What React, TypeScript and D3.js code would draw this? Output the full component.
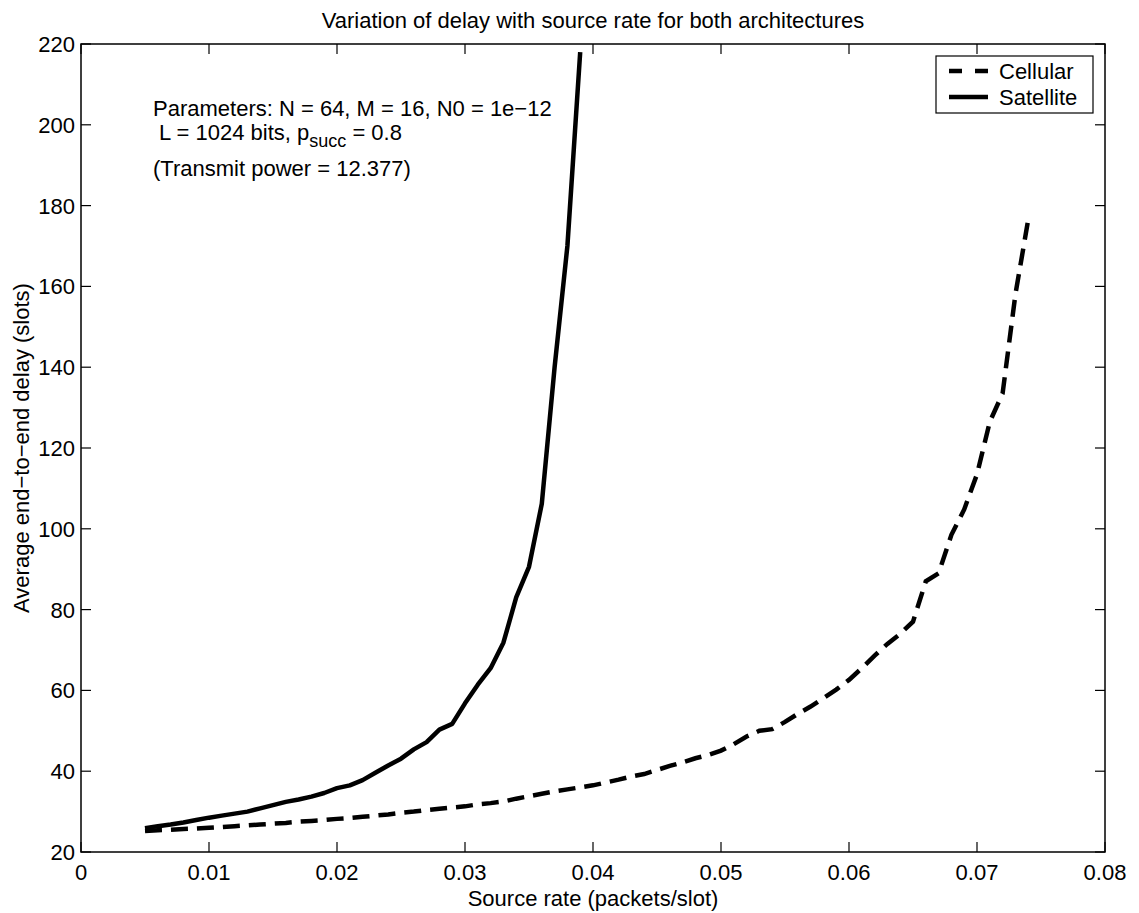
import React, { useEffect, useRef } from "react";
import * as d3 from "d3";

const satelliteX = [0.005,0.006,0.007,0.008,0.009,0.010,0.011,0.012,0.013,0.014,0.015,0.016,0.017,0.018,0.019,0.020,0.021,0.022,0.023,0.024,0.025,0.026,0.027,0.028,0.029,0.030,0.031,0.032,0.033,0.034,0.035,0.036,0.037,0.038,0.039];
const satelliteY = [25.9,26.4,26.8,27.3,27.9,28.5,29.0,29.5,30.0,30.8,31.6,32.4,33.0,33.7,34.6,35.8,36.5,37.8,39.6,41.4,43.1,45.4,47.2,50.3,51.7,56.8,61.4,65.5,71.8,83.0,90.6,106.2,140,170,218];

const cellularX = [0.005,0.006,0.007,0.008,0.009,0.010,0.011,0.012,0.013,0.014,0.015,0.016,0.017,0.018,0.019,0.020,0.021,0.022,0.023,0.024,0.025,0.026,0.027,0.028,0.029,0.030,0.031,0.032,0.033,0.034,0.035,0.036,0.037,0.038,0.039,0.040,0.041,0.042,0.043,0.044,0.045,0.046,0.047,0.048,0.049,0.050,0.051,0.052,0.053,0.054,0.055,0.056,0.057,0.058,0.059,0.060,0.061,0.062,0.063,0.064,0.065,0.066,0.067,0.068,0.069,0.070,0.071,0.072,0.073,0.074];
const cellularY = [25.2,25.4,25.5,25.7,25.8,26.0,26.2,26.4,26.6,26.8,27.0,27.2,27.5,27.7,27.9,28.2,28.4,28.7,29.0,29.3,29.7,30.0,30.4,30.7,31.0,31.3,31.8,32.1,32.5,33.2,33.8,34.4,35.0,35.5,36.0,36.5,37.2,37.9,38.7,39.3,40.3,41.3,42.2,43.2,44.0,45.1,46.7,48.6,50.0,50.4,52.2,54.2,56.0,58.1,60.2,62.6,65.5,68.6,71.5,74.0,77.0,87.0,89.0,98.5,104.8,113.5,126.5,133.5,158,176.5];

const xTicks = [0,0.01,0.02,0.03,0.04,0.05,0.06,0.07,0.08];
const yTicks = [20,40,60,80,100,120,140,160,180,200,220];
const xTickLabels = ["0","0.01","0.02","0.03","0.04","0.05","0.06","0.07","0.08"];

const seriesNames = ["Cellular","Satellite"];

const W = 1139, H = 913;
const M = { left: 81, right: 1105, top: 44, bottom: 852 };
const FONT = "'Liberation Sans', Arial, Helvetica, sans-serif";

export default function App() {
  const ref = useRef<SVGSVGElement>(null);
  useEffect(() => {
    const svg = d3.select(ref.current);
    svg.selectAll("*").remove();
    const x = d3.scaleLinear().domain([0, 0.08]).range([M.left, M.right]);
    const y = d3.scaleLinear().domain([20, 220]).range([M.bottom, M.top]);

    svg.append("rect").attr("width", W).attr("height", H).attr("fill", "#fff");

    const g = svg.append("g").attr("font-family", FONT).attr("font-size", 22).attr("fill", "#000");

    g.append("rect").attr("x", M.left).attr("y", M.top).attr("width", M.right - M.left).attr("height", M.bottom - M.top)
      .attr("fill", "none").attr("stroke", "#000").attr("stroke-width", 1.5);

    const tl = 10;
    xTicks.forEach((t, i) => {
      const px = x(t);
      g.append("line").attr("x1", px).attr("x2", px).attr("y1", M.bottom).attr("y2", M.bottom - tl).attr("stroke", "#000").attr("stroke-width", 1.2);
      g.append("line").attr("x1", px).attr("x2", px).attr("y1", M.top).attr("y2", M.top + tl).attr("stroke", "#000").attr("stroke-width", 1.2);
      g.append("text").attr("x", px).attr("y", M.bottom + 28).attr("text-anchor", "middle").text(xTickLabels[i]);
    });
    yTicks.forEach((t) => {
      const py = y(t);
      g.append("line").attr("x1", M.left).attr("x2", M.left + tl).attr("y1", py).attr("y2", py).attr("stroke", "#000").attr("stroke-width", 1.2);
      g.append("line").attr("x1", M.right).attr("x2", M.right - tl).attr("y1", py).attr("y2", py).attr("stroke", "#000").attr("stroke-width", 1.2);
      g.append("text").attr("x", M.left - 6).attr("y", py + 8).attr("text-anchor", "end").text(String(t));
    });

    const cx = (M.left + M.right) / 2;
    g.append("text").attr("x", cx).attr("y", 28).attr("text-anchor", "middle").text("Variation of delay with source rate for both architectures");
    g.append("text").attr("x", cx).attr("y", 906).attr("text-anchor", "middle").text("Source rate (packets/slot)");
    g.append("text").attr("transform", `translate(29,${(M.top + M.bottom) / 2}) rotate(-90)`).attr("text-anchor", "middle").text("Average end\u2212to\u2212end delay (slots)");

    g.append("text").attr("x", 153).attr("y", 116).text("Parameters: N = 64, M = 16, N0 = 1e\u221212");
    const t2 = g.append("text").attr("x", 159).attr("y", 140);
    t2.append("tspan").text("L = 1024 bits, p");
    t2.append("tspan").attr("font-size", 18).attr("dy", 7).text("succ");
    t2.append("tspan").attr("dy", -7).text(" = 0.8");
    g.append("text").attr("x", 153).attr("y", 176).text("(Transmit power = 12.377)");

    const line = d3.line<[number, number]>().x(d => x(d[0])).y(d => y(d[1]));
    const cell: [number, number][] = cellularX.map((v, i) => [v, cellularY[i]]);
    const sat: [number, number][] = satelliteX.map((v, i) => [v, satelliteY[i]]);

    g.append("path").attr("d", line(cell)).attr("fill", "none").attr("stroke", "#000").attr("stroke-width", 4.5)
      .attr("stroke-dasharray", "17,9");
    g.append("path").attr("d", line(sat)).attr("fill", "none").attr("stroke", "#000").attr("stroke-width", 4.5)
      .attr("stroke-linejoin", "round");

    const lx = 936, ly = 56, lw = 157, lh = 57;
    g.append("rect").attr("x", lx).attr("y", ly).attr("width", lw).attr("height", lh).attr("fill", "#fff").attr("stroke", "#000").attr("stroke-width", 1.2);
    const rows = [71, 97];
    seriesNames.forEach((name, i) => {
      g.append("line").attr("x1", 949).attr("x2", 988).attr("y1", rows[i]).attr("y2", rows[i]).attr("stroke", "#000").attr("stroke-width", 4.5)
        .attr("stroke-dasharray", i === 0 ? "13,13" : null);
      g.append("text").attr("x", 999).attr("y", rows[i] + 8).text(name);
    });
  }, []);
  return <svg ref={ref} width={W} height={H} style={{ position: "absolute", left: 0, top: 0 }} />;
}
